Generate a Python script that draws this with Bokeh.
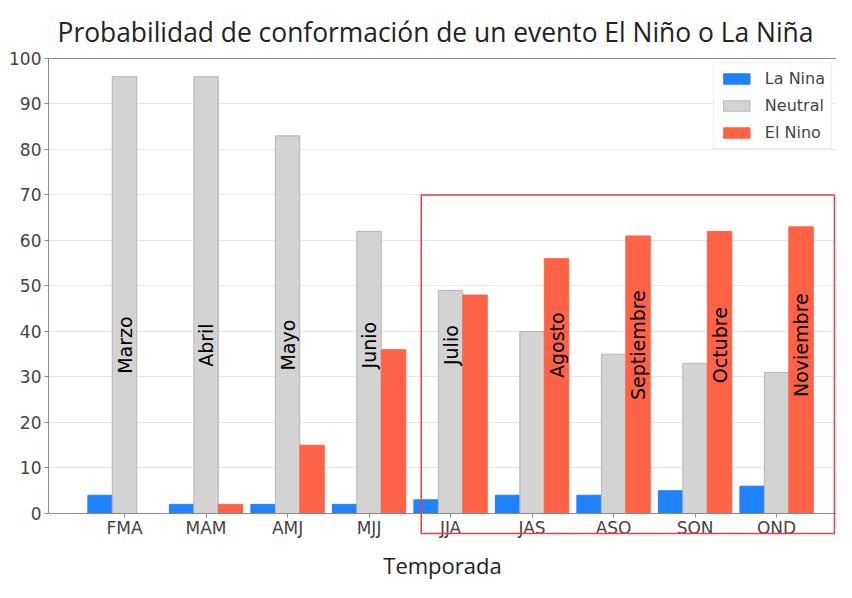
import math
from bokeh.plotting import figure
from bokeh.models import (ColumnDataSource, Range1d, FixedTicker, LinearAxis,
                          BoxAnnotation, Legend, LegendItem)
from bokeh.transform import dodge
from bokeh.core.properties import value
from bokeh.embed import file_html
from bokeh.resources import INLINE

# ---- data ----
seasons = ["FMA", "MAM", "AMJ", "MJJ", "JJA", "JAS", "ASO", "SON", "OND"]
months = ["Marzo", "Abril", "Mayo", "Junio", "Julio", "Agosto", "Septiembre", "Octubre", "Noviembre"]
la_nina = [4, 2, 2, 2, 3, 4, 4, 5, 6]
neutral = [96, 96, 83, 62, 49, 40, 35, 33, 31]
el_nino = [0, 2, 15, 36, 48, 56, 61, 62, 63]
label_series = ["Neutral"] * 5 + ["El Nino"] * 4
y_ticks = list(range(0, 101, 10))

# ---- styling constants ----
BAR_W = 0.3
OFFSETS = {"La Nina": -BAR_W, "Neutral": 0.0, "El Nino": BAR_W}
LABEL_Y = 37
C_BLUE = "#1f82ff"
C_GRAY = "#d3d3d3"
C_RED = "#ff6347"
TXT = "#444444"
SPINE = "#8a8a8a"

xs = list(range(len(seasons)))
src = ColumnDataSource(dict(x=xs, la=la_nina, ne=neutral, el=el_nino))
lab_src = ColumnDataSource(dict(
    x=[i + OFFSETS[s] for i, s in zip(xs, label_series)],
    y=[LABEL_Y] * len(xs),
    t=months))

p = figure(width=836, height=582, output_backend="svg", toolbar_location=None,
           x_range=Range1d(-0.933, 8.735), y_range=Range1d(-5.5, 100),
           min_border_left=48, min_border_right=0, min_border_top=58,
           min_border_bottom=0)
p.outline_line_color = None
p.background_fill_color = "white"
p.border_fill_color = "white"

r1 = p.vbar(x=dodge("x", OFFSETS["La Nina"]), top="la", width=BAR_W, source=src,
            fill_color=C_BLUE, line_color=C_BLUE)
r2 = p.vbar(x=dodge("x", OFFSETS["Neutral"]), top="ne", width=BAR_W, source=src,
            fill_color=C_GRAY, line_color="#b5b5b5")
r3 = p.vbar(x=dodge("x", OFFSETS["El Nino"]), top="el", width=BAR_W, source=src,
            fill_color=C_RED, line_color=C_RED)

p.text(x="x", y="y", text="t", source=lab_src, angle=math.pi / 2,
       text_align="center", text_baseline="middle",
       text_font=value("DejaVu Sans"), text_font_size="19px", text_color="black")

# axes
xa = p.xaxis[0]
xa.fixed_location = 0
xa.ticker = FixedTicker(ticks=xs)
xa.major_label_overrides = {i: s for i, s in zip(xs, seasons)}
xa.major_label_text_font = "DejaVu Sans"
xa.major_label_text_font_size = "17px"
xa.major_label_text_color = TXT
xa.major_label_standoff = 1
xa.axis_line_color = SPINE
xa.major_tick_line_color = SPINE
xa.major_tick_in = 0
xa.major_tick_out = 4
xa.minor_tick_line_color = None

ya = p.yaxis[0]
ya.bounds = (0, 100)
ya.ticker = FixedTicker(ticks=y_ticks)
ya.major_label_text_font = "DejaVu Sans"
ya.major_label_text_font_size = "17px"
ya.major_label_text_color = TXT
ya.major_label_standoff = 3
ya.axis_line_color = SPINE
ya.major_tick_line_color = SPINE
ya.major_tick_in = 0
ya.major_tick_out = 4
ya.minor_tick_line_color = None

def spine_axis(**kw):
    return LinearAxis(ticker=FixedTicker(ticks=[]), major_label_text_font_size="0px",
                      major_label_standoff=0, major_tick_out=0, major_tick_in=0,
                      minor_tick_line_color=None, axis_line_color=SPINE, **kw)

p.add_layout(spine_axis(), "above")
p.add_layout(spine_axis(bounds=(0, 100)), "right")

# x axis title (separate axis so it sits below the frame)
lab_ax = LinearAxis(ticker=FixedTicker(ticks=[]), major_label_text_font_size="0px",
                    major_label_standoff=0, major_tick_out=0, major_tick_in=0,
                    minor_tick_line_color=None, axis_line_color=None,
                    axis_label="Temporada", axis_label_text_font="Open Sans",
                    axis_label_text_font_size="22px", axis_label_text_font_style="normal",
                    axis_label_text_color="#222222", axis_label_standoff=11)
p.add_layout(lab_ax, "below")

p.xgrid.visible = False
p.ygrid.ticker = FixedTicker(ticks=y_ticks[1:-1])
p.ygrid.grid_line_color = "#e6e6e6"

# highlight box
p.add_layout(BoxAnnotation(left=3.64, right=8.71, bottom=-4.4, top=70,
                           fill_alpha=0, line_color="#e8404a", line_alpha=1,
                           line_width=1.5))

# legend
legend = Legend(items=[LegendItem(label="La Nina", renderers=[r1]),
                       LegendItem(label="Neutral", renderers=[r2]),
                       LegendItem(label="El Nino", renderers=[r3])],
                location="top_right", label_text_font="DejaVu Sans",
                label_text_font_size="16px", label_text_color=TXT,
                glyph_width=33, glyph_height=13, label_height=18, spacing=8,
                label_standoff=12, padding=6, margin=4,
                border_line_color="#dddddd", background_fill_alpha=0.9)
p.add_layout(legend)

# title
p.title.text = "Probabilidad de conformación de un evento El Niño o La Niña"
p.title.text_font = "Open Sans"
p.title.text_font_size = "26.4px"
p.title.text_font_style = "normal"
p.title.text_color = "#222222"
p.title.align = "left"
p.title.offset = 9
p.title.standoff = 17

open("out.html", "w").write(file_html(p, INLINE))
